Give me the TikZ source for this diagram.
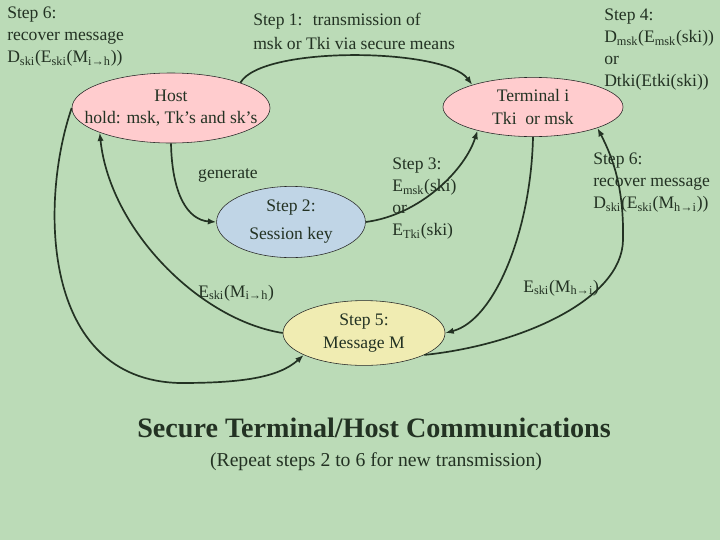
\documentclass[tikz,border=0pt]{standalone}
\usepackage{fontspec}
\setmainfont{Liberation Serif}
\usetikzlibrary{shapes.geometric,arrows.meta}

\definecolor{fond}{RGB}{187,219,183}
\definecolor{encre}{RGB}{35,50,35}
\definecolor{rose}{RGB}{255,204,206}
\definecolor{bleu}{RGB}{192,213,230}
\definecolor{jaune}{RGB}{240,236,178}

\newcommand{\ind}[1]{\textsubscript{#1}}

\begin{document}
\begin{tikzpicture}[x=0.025cm, y=-0.025cm]
  % Styles
  \tikzset{
    bulle/.style={ellipse, draw=black!85, thin, inner xsep=-14pt, inner ysep=0pt, align=center, text=encre, font=\fontsize{12.5}{16}\selectfont},
    boxhost/.style={bulle, fill=rose, minimum width=4.95cm, minimum height=1.75cm},
    boxterm/.style={bulle, fill=rose, minimum width=4.5cm, minimum height=1.48cm},
    boxkey/.style={bulle, fill=bleu, minimum width=3.72cm, minimum height=1.78cm},
    boxmsg/.style={bulle, fill=jaune, minimum width=4.05cm, minimum height=1.62cm},
    txt/.style={align=left, anchor=north west, inner sep=0pt, text=encre, font=\fontsize{12.5}{15.6}\selectfont},
    fl/.style={-{Latex[length=6pt,width=4.5pt]}, line width=1.2pt, color=encre},
  }

  % Fond
  \useasboundingbox (0,0) rectangle (720,540);
  \fill[fond] (0,0) rectangle (720,540);

  % Bulles
  \node[boxhost] (host) at (171,108) {Host\\hold: msk, Tk’s and sk’s};
  \node[boxterm] (terminal) at (533,107) {Terminal i\\Tki~ or msk};
  \node[boxkey] (key) at (291,222) {Step 2:\\[4pt]Session key};
  \node[boxmsg] (msg) at (364,333) {Step 5:\\Message M};

  % Textes
  \node[txt] (step6h) at (7,7) {Step 6:\\recover message\\D\ind{ski}(E\ind{ski}(M\ind{i→h}))};
  \node[txt] (step1) at (253,13) {Step 1:~ transmission of\\[1pt]msk or Tki via secure means};
  \node[txt] (step4) at (604,9) {Step 4:\\D\ind{msk}(E\ind{msk}(ski))\\or\\Dtki(Etki(ski))};
  \node[txt, anchor=center] (generate) at (228,175) {generate};
  \node[txt] (step3) at (392,158) {Step 3:\\E\ind{msk}(ski)\\or\\E\ind{Tki}(ski)};
  \node[txt] (step6t) at (593,153) {Step 6:\\recover message\\D\ind{ski}(E\ind{ski}(M\ind{h→i}))};
  \node[txt, anchor=base west] (encih) at (198,297) {E\ind{ski}(M\ind{i→h})};
  \node[txt, anchor=base west] (enchi) at (523,292) {E\ind{ski}(M\ind{h→i})};

  % Titre
  \node[anchor=base, text=encre, font=\bfseries\fontsize{20}{24}\selectfont] (title) at (374,437) {Secure Terminal/Host Communications};
  \node[anchor=base, text=encre, font=\fontsize{14}{16}\selectfont] (subtitle) at (376,466) {(Repeat steps 2 to 6 for new transmission)};

  % Fleches
  \draw[fl] (host.20) .. controls (262,45) and (445,48) .. (terminal.160);
  \draw[fl] (host.south) .. controls (172,195) and (188,220) .. (key.west);
  \draw[fl] (key.east) .. controls (420,215) and (465,170) .. (terminal.203);
  \draw[fl] (terminal.south) .. controls (531,230) and (495,320) .. (msg.east);
  \draw[fl] (msg.-20) .. controls (520,345) and (622,300) .. (623,240) .. controls (624,190) and (614,160) .. (terminal.-18);
  \draw[fl] (msg.west) .. controls (200,320) and (110,230) .. (host.199);
  \draw[fl] (host.west) .. controls (40,200) and (40,380) .. (180,383) .. controls (240,383) and (278,378) .. (msg.200);

\end{tikzpicture}
\end{document}
